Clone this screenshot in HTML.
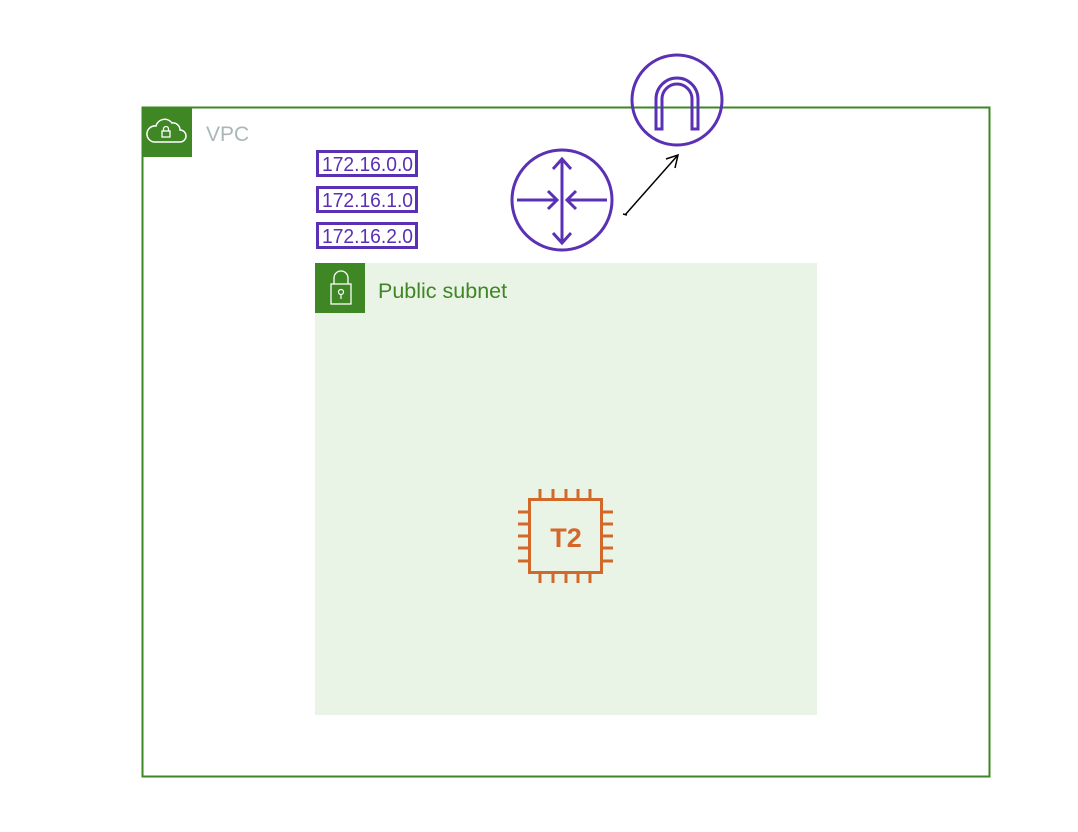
<!DOCTYPE html>
<html><head><meta charset="utf-8"><style>
html,body{margin:0;padding:0;background:#fff;}
svg{display:block;font-family:"Liberation Sans",sans-serif;}
</style></head><body>
<svg width="1078" height="832" viewBox="0 0 1078 832">
  <rect x="142.5" y="107.5" width="847" height="669" fill="none" stroke="#3f8624" stroke-width="2"/>
  <g>
    <rect x="142" y="107" width="50" height="50" fill="#3f8624"/>
    <path d="M154,142 h26 a6,6 0 0 0 0,-12 a7,7 0 0 0 -8,-7 a9,9 0 0 0 -16,3 a6,6 0 0 0 -2,16 z" fill="none" stroke="#fff" stroke-width="1.5"/>
    <rect x="162" y="131" width="8" height="6" fill="none" stroke="#fff" stroke-width="1.3"/>
    <path d="M163.5,131 v-2 a2.5,2.5 0 0 1 5,0 v2" fill="none" stroke="#fff" stroke-width="1.3"/>
  </g>
  <text x="206" y="141" font-size="21" fill="#aab7b8">VPC</text>

  <rect x="315" y="263" width="502" height="452" fill="#e9f3e6"/>
  <g>
    <rect x="315" y="263" width="50" height="50" fill="#3f8624"/>
    <rect x="331" y="284" width="20" height="20" fill="none" stroke="#fff" stroke-width="1.3"/>
    <path d="M334,284 v-6 a7,7 0 0 1 14,0 v6" fill="none" stroke="#fff" stroke-width="1.3"/>
    <circle cx="341" cy="292" r="2.5" fill="none" stroke="#fff" stroke-width="1.2"/>
    <line x1="341" y1="294.5" x2="341" y2="299" stroke="#fff" stroke-width="1.2"/>
  </g>
  <text x="378" y="298" font-size="21.5" fill="#3f8624">Public subnet</text>

  <g font-size="20" fill="#5a30b5">
    <rect x="317.5" y="151.5" width="99" height="24" fill="#fff" stroke="#5a30b5" stroke-width="3"/>
    <text x="322" y="171" textLength="91" lengthAdjust="spacingAndGlyphs">172.16.0.0</text>
    <rect x="317.5" y="187.5" width="99" height="24" fill="#fff" stroke="#5a30b5" stroke-width="3"/>
    <text x="322" y="207" textLength="91" lengthAdjust="spacingAndGlyphs">172.16.1.0</text>
    <rect x="317.5" y="223.5" width="99" height="24" fill="#fff" stroke="#5a30b5" stroke-width="3"/>
    <text x="322" y="243" textLength="91" lengthAdjust="spacingAndGlyphs">172.16.2.0</text>
  </g>

  <g fill="none" stroke="#5a30b5" stroke-width="3">
    <ellipse cx="562" cy="200" rx="50" ry="50"/>
    <line x1="562" y1="160" x2="562" y2="242"/>
    <polyline points="553,169 562,159 571,169"/>
    <polyline points="553,233 562,243 571,233"/>
    <line x1="517" y1="200" x2="557" y2="200"/>
    <polyline points="548,191 557,200 548,209"/>
    <line x1="607" y1="200" x2="567" y2="200"/>
    <polyline points="576,191 567,200 576,209"/>
  </g>

  <g fill="none" stroke="#5a30b5" stroke-width="3">
    <circle cx="677" cy="100" r="45"/>
    <path d="M656,129 v-30 a21,21 0 0 1 42,0 v30 h-6 v-30 a15,15 0 0 0 -30,0 v30 z"/>
  </g>

  <g stroke="#000" stroke-width="1.5" fill="none">
    <line x1="625" y1="215" x2="678" y2="155"/>
    <polyline points="666,159 678,155 675,168"/>
    <line x1="623" y1="214" x2="627" y2="215"/>
  </g>

  <g stroke="#d2692a" stroke-width="3" fill="none">
    <rect x="529.5" y="499.5" width="72" height="73"/>
    <path d="M540,489v10 M553,489v10 M566,489v10 M578,489v10 M590,489v10
             M540,573v10 M553,573v10 M566,573v10 M578,573v10 M590,573v10
             M518,512h11 M518,524h11 M518,536h11 M518,548h11 M518,561h11
             M602,512h11 M602,524h11 M602,536h11 M602,548h11 M602,561h11"/>
    <text x="566" y="547" text-anchor="middle" font-size="27" font-weight="bold" fill="#d2692a" stroke="none">T2</text>
  </g>
</svg>
</body></html>
